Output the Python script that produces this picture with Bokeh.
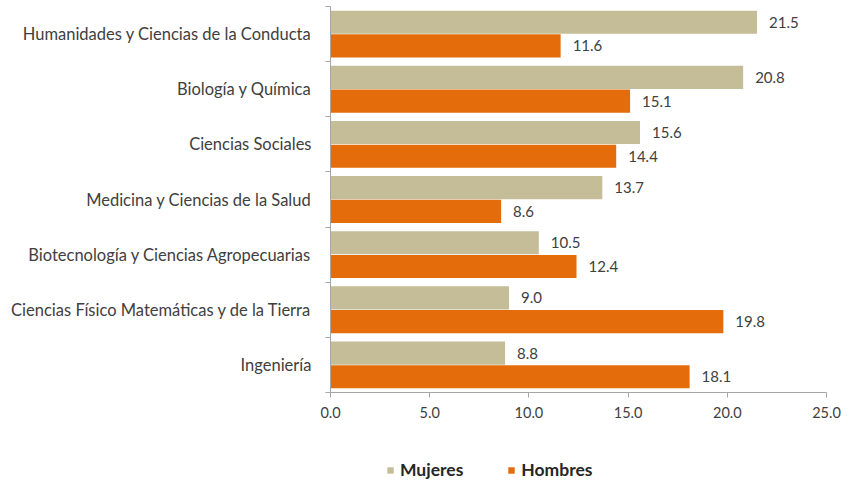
from bokeh.plotting import figure
from bokeh.layouts import column
from bokeh.models import ColumnDataSource, FixedTicker, Legend, LegendItem
from bokeh.embed import file_html
from bokeh.resources import INLINE
from bokeh.core.properties import value

categories = [
    "Humanidades y Ciencias de la Conducta",
    "Biología y Química",
    "Ciencias Sociales",
    "Medicina y Ciencias de la Salud",
    "Biotecnología y Ciencias Agropecuarias",
    "Ciencias Físico Matemáticas y de la Tierra",
    "Ingeniería",
]
series = ["Mujeres", "Hombres"]
mujeres = [21.5, 20.8, 15.6, 13.7, 10.5, 9.0, 8.8]
hombres = [11.6, 15.1, 14.4, 8.6, 12.4, 19.8, 18.1]
x_ticks = [0, 5, 10, 15, 20, 25]

n = len(categories)
centers = [n - i - 0.5 for i in range(n)]
off = 0.215
bh = 0.42

FONT = "Lato"
TXT = "#404040"
C_M = "#C4BD97"
C_H = "#E46C0A"

src_m = ColumnDataSource(dict(y=[c + off for c in centers], v=mujeres,
                              lbl=[f"{v:.1f}" for v in mujeres]))
src_h = ColumnDataSource(dict(y=[c - off for c in centers], v=hombres,
                              lbl=[f"{v:.1f}" for v in hombres]))

p = figure(frame_width=496, frame_height=386, x_range=(0, 25), y_range=(0, n),
           output_backend="svg", toolbar_location=None,
           min_border_left=330, min_border_right=23, min_border_top=6,
           min_border_bottom=0)

p.hbar(y="y", right="v", left=0, height=bh, source=src_m,
       fill_color=C_M, line_color=None)
p.hbar(y="y", right="v", left=0, height=bh, source=src_h,
       fill_color=C_H, line_color=None)

for s in (src_m, src_h):
    p.text(x="v", y="y", text="lbl", source=s, x_offset=12,
           text_baseline="middle", text_align="left",
           text_font=value(FONT), text_font_size="15px", text_color=TXT)

p.grid.visible = False
p.outline_line_color = None

AX = "#A6A6A6"
xa = p.xaxis[0]
xa.ticker = FixedTicker(ticks=x_ticks)
xa.major_label_overrides = {t: f"{t:.1f}" for t in x_ticks}
xa.axis_line_color = AX
xa.major_tick_line_color = AX
xa.major_tick_in = 0
xa.major_tick_out = 5
xa.minor_tick_line_color = None
xa.major_label_text_font = FONT
xa.major_label_text_font_size = "14.5px"
xa.major_label_text_color = TXT
xa.major_label_standoff = 9

ya = p.yaxis[0]
ya.ticker = FixedTicker(ticks=centers, minor_ticks=list(range(n + 1)))
ya.major_label_overrides = {c: cat for c, cat in zip(centers, categories)}
ya.axis_line_color = AX
ya.major_tick_line_color = None
ya.minor_tick_line_color = AX
ya.minor_tick_in = 0
ya.minor_tick_out = 5
ya.major_label_text_font = FONT
ya.major_label_text_font_size = "16.5px"
ya.major_label_text_color = TXT
ya.major_label_standoff = 13

# legend strip (zero-width proxy bars only carry the legend colours)
lg = figure(width=849, height=60, x_range=(0, 1), y_range=(0, 1),
            output_backend="svg", toolbar_location=None,
            min_border=0, outline_line_color=None)
lg.axis.visible = False
lg.grid.visible = False
g_m = lg.hbar(y=[0.5], right=[0], left=0, height=0.5,
              fill_color=C_M, line_color=None)
g_h = lg.hbar(y=[0.5], right=[0], left=0, height=0.5,
              fill_color=C_H, line_color=None)
legend = Legend(items=[LegendItem(label=series[0], renderers=[g_m], index=0),
                       LegendItem(label=series[1], renderers=[g_h], index=0)],
                orientation="horizontal", location=(56, 0),
                label_text_font=FONT, label_text_font_size="17.5px",
                label_text_font_style="bold", label_text_color="#262626",
                glyph_width=8, glyph_height=8, spacing=44, label_standoff=6,
                border_line_color=None, background_fill_alpha=0,
                padding=4, margin=0)
lg.add_layout(legend, "center")

open("out.html", "w").write(file_html(column(p, lg, spacing=0), INLINE))
